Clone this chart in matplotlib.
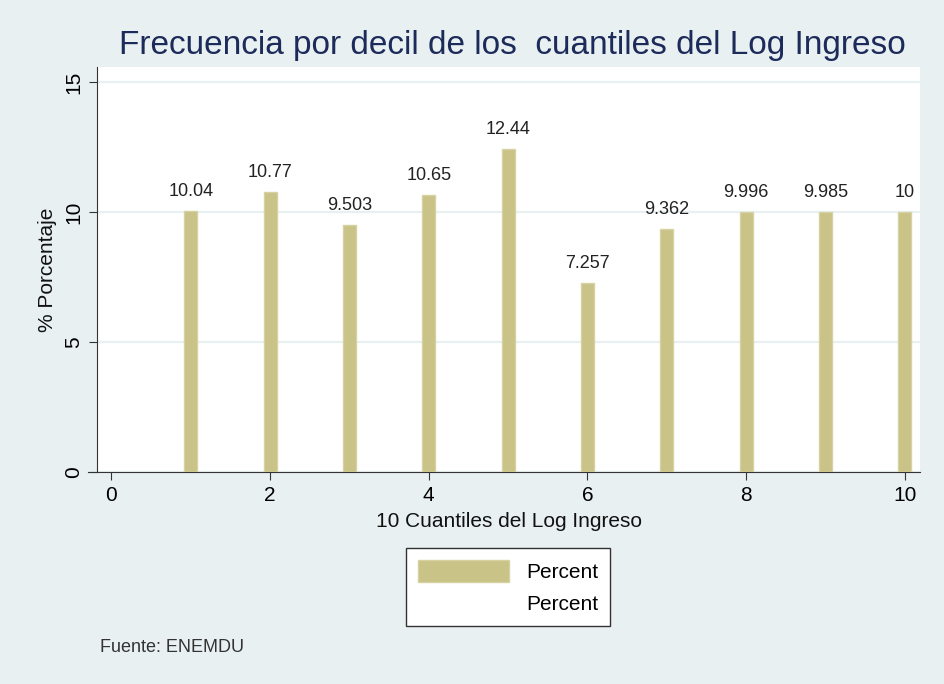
import matplotlib.pyplot as plt
from matplotlib.patches import Patch

# datos: frecuencia (%) por decil
deciles = [1, 2, 3, 4, 5, 6, 7, 8, 9, 10]
percent = [10.04, 10.77, 9.503, 10.65, 12.44, 7.257, 9.362, 9.996, 9.985, 10]
etiquetas = ["10.04", "10.77", "9.503", "10.65", "12.44", "7.257", "9.362", "9.996", "9.985", "10"]
xticks = [0, 2, 4, 6, 8, 10]
yticks = [0, 5, 10, 15]

fondo = "#E8F0F2"
barra = "#C9C388"
fuente = ["Liberation Sans", "DejaVu Sans"]
plt.rcParams["font.family"] = fuente

fig = plt.figure(figsize=(9.44, 6.84), dpi=100, facecolor=fondo)
ax = fig.add_axes([0.1028, 0.31, 0.8718, 0.592])
ax.set_facecolor("white")

ax.bar(deciles, percent, width=0.165, color=barra, edgecolor="#D6D2A2", linewidth=1, zorder=3)
for x, y, t in zip(deciles, percent, etiquetas):
    ax.annotate(t, (x, y), xytext=(0, 8), textcoords="offset points",
                ha="center", va="bottom", fontsize=13, color="#222222")

ax.set_xlim(-0.18, 10.19)
ax.set_ylim(0, 15.58)
ax.set_xticks(xticks)
ax.set_yticks(yticks)
ax.grid(axis="y", color="#E8F0F2", linewidth=1.6, zorder=0)
ax.tick_params(axis="x", labelsize=15, length=6, color="#333333", pad=4)
ax.tick_params(axis="y", labelsize=15, length=6, color="#333333", labelrotation=90, pad=4)
for lab in ax.get_yticklabels():
    lab.set_va("center")

for s in ["top", "right"]:
    ax.spines[s].set_visible(False)
ax.spines["left"].set_color("#333333")
ax.spines["bottom"].set_color("#333333")
ax.spines["bottom"].set_bounds(-0.29, 10.19)

ax.set_xlabel("10 Cuantiles del Log Ingreso", fontsize=15, labelpad=5, color="#111111")
ax.set_ylabel("% Porcentaje", fontsize=15, labelpad=5, color="#111111")

fig.text(0.543, 0.934, "Frecuencia por decil de los  cuantiles del Log Ingreso",
         ha="center", va="center", fontsize=24, color="#1C2B5A")

handles = [Patch(facecolor=barra, edgecolor="#D6D2A2"), Patch(facecolor="none", edgecolor="none")]
leg = fig.legend(handles, ["Percent", "Percent"], loc="center", bbox_to_anchor=(0.538, 0.142),
                 fontsize=15, frameon=True, fancybox=False, edgecolor="#333333", framealpha=1,
                 handlelength=4.4, handleheight=1.25, labelspacing=0.5, borderpad=0.55)
leg.get_frame().set_linewidth(1)

fig.text(0.106, 0.054, "Fuente: ENEMDU", fontsize=13, color="#333333", va="center")

plt.savefig("out.png", dpi=100, facecolor=fondo)
